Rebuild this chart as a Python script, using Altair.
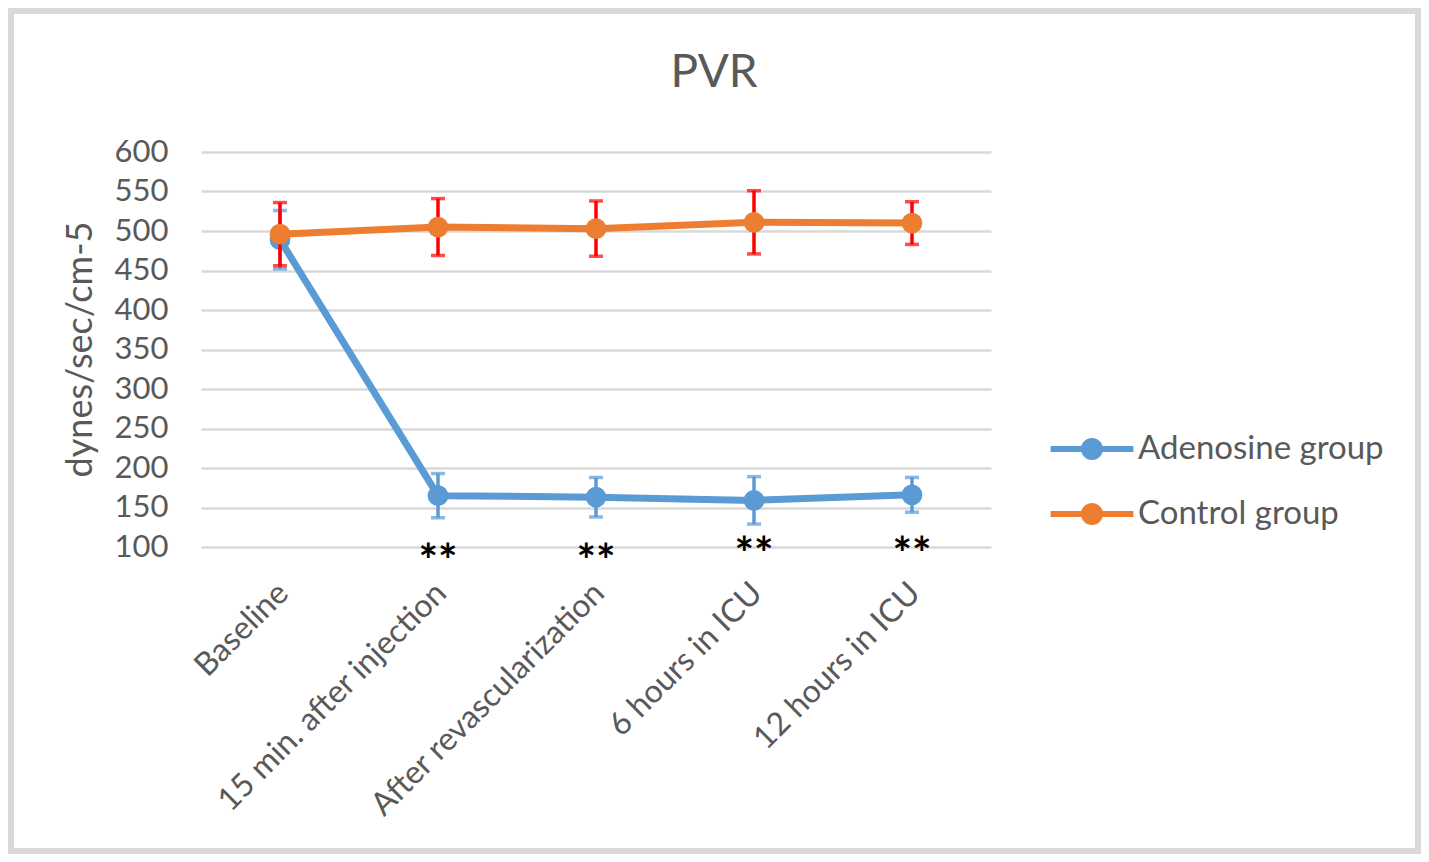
import altair as alt
import pandas as pd

times = ["Baseline", "15 min. after injection", "After revascularization",
         "6 hours in ICU", "12 hours in ICU"]
groups = ["Adenosine group", "Control group"]
adenosine_mean = [489, 165, 163, 159, 166]
adenosine_err = [37, 28, 25, 30, 22]
control_mean = [496, 505, 503, 511, 510]
control_err = [40, 36, 35, 40, 27]
star_times = ["15 min. after injection", "After revascularization",
              "6 hours in ICU", "12 hours in ICU"]
star_y = [95, 95, 104, 104]
star_text = ["**", "**", "**", "**"]
chart_title = "PVR"
y_ticks = [100, 150, 200, 250, 300, 350, 400, 450, 500, 550, 600]

rows = []
for g, means, errs in [(groups[0], adenosine_mean, adenosine_err),
                       (groups[1], control_mean, control_err)]:
    for t, m, e in zip(times, means, errs):
        rows.append({"group": g, "time": t, "mean": m, "lo": m - e, "hi": m + e})
df = pd.DataFrame(rows)
stars = pd.DataFrame({"time": star_times, "y": star_y, "label": star_text})

FONT = "Lato"
TXT = "#595959"
blue, orange = "#5b9bd5", "#ed7d31"

x = alt.X("time:N", sort=times, title=None,
          scale=alt.Scale(type="point", padding=0.5),
          axis=alt.Axis(labelAngle=-45, labelAlign="right", labelBaseline="top",
                        labelPadding=30, labelOffset=-8, labelFontSize=32,
                        labelColor=TXT, labelFont=FONT, ticks=False, domain=False,
                        grid=False, labelLimit=600))
yscale = alt.Scale(domain=[100, 600], nice=False, zero=False)
yaxis = alt.Axis(values=y_ticks, ticks=False, domain=False, labelPadding=33,
                 labelFontSize=31, labelColor=TXT, labelFont=FONT,
                 labelOverlap=False, gridColor="#d9d9d9", gridWidth=2.5,
                 titleFont=FONT, titleFontSize=36, titleColor=TXT,
                 titleFontWeight="normal", titleX=-121, titleY=197,
                 titleAngle=-90, titleAlign="center", titleBaseline="middle")
YT = "dynes/sec/cm-5"

legend = alt.Legend(
    title=None, orient="none", legendX=868, legendY=274,
    symbolType="M-1.8,-0.13L1.8,-0.13L1.8,0.13L-1.8,0.13Z"
               "M0.48,0A0.48,0.48 0 1,1 -0.48,0A0.48,0.48 0 1,1 0.48,0Z",
    symbolSize=2116, symbolStrokeWidth=0, labelOffset=23, rowPadding=25,
    labelFontSize=33, labelColor=TXT, labelFont=FONT, padding=0, labelLimit=600)
color = alt.Color("group:N", scale=alt.Scale(domain=groups, range=[blue, orange]),
                  legend=legend)

# decorative outer frame of the picture
frame = alt.Chart(pd.DataFrame({"a": [0]})).mark_rect(
    fill=None, fillOpacity=0, stroke="#d9d9d9", strokeWidth=6).encode(
    x=alt.value(-190), x2=alt.value(1217), y=alt.value(-141), y2=alt.value(699))

title_layer = alt.Chart(pd.DataFrame({"t": [chart_title]})).mark_text(
    fontSize=46, color=TXT, font=FONT, baseline="alphabetic", align="center").encode(
    x=alt.value(513), y=alt.value(-65), text="t:N")

def series(g, lcol, ecol):
    d = df[df.group == g]
    base = alt.Chart(d)
    line = base.mark_line(strokeWidth=7, color=lcol).encode(
        x=x, y=alt.Y("mean:Q", scale=yscale, title=YT, axis=yaxis))
    rule = base.mark_rule(color=ecol, strokeWidth=3.5).encode(
        x=x, y=alt.Y("lo:Q", scale=yscale, title=YT, axis=yaxis), y2="hi:Q")
    cap_lo = base.mark_tick(color=ecol, thickness=3.5, size=14, orient="horizontal").encode(
        x=x, y=alt.Y("lo:Q", scale=yscale, title=YT, axis=yaxis))
    cap_hi = base.mark_tick(color=ecol, thickness=3.5, size=14, orient="horizontal").encode(
        x=x, y=alt.Y("hi:Q", scale=yscale, title=YT, axis=yaxis))
    pts = base.mark_circle(size=430, opacity=1).encode(
        x=x, y=alt.Y("mean:Q", scale=yscale, title=YT, axis=yaxis), color=color)
    return [line, rule, cap_lo, cap_hi, pts]

star_layer = alt.Chart(stars).mark_text(fontSize=46, fontWeight="bold", color="black",
                                        font=FONT, baseline="middle", dy=12).encode(
    x=x, y=alt.Y("y:Q", scale=yscale, title=YT, axis=yaxis), text="label:N")

layers = ([frame, title_layer] + series(groups[0], blue, blue)
          + series(groups[1], orange, "#ff0000") + [star_layer])

chart = alt.layer(*layers).properties(
    width=790, height=395,
    autosize=alt.AutoSizeParams(type="none"),
    padding={"left": 193, "top": 144, "right": 430, "bottom": 307},
    background="white",
).configure_view(stroke=None)

chart.save("out.html", embed_options={"renderer": "svg", "actions": False})
